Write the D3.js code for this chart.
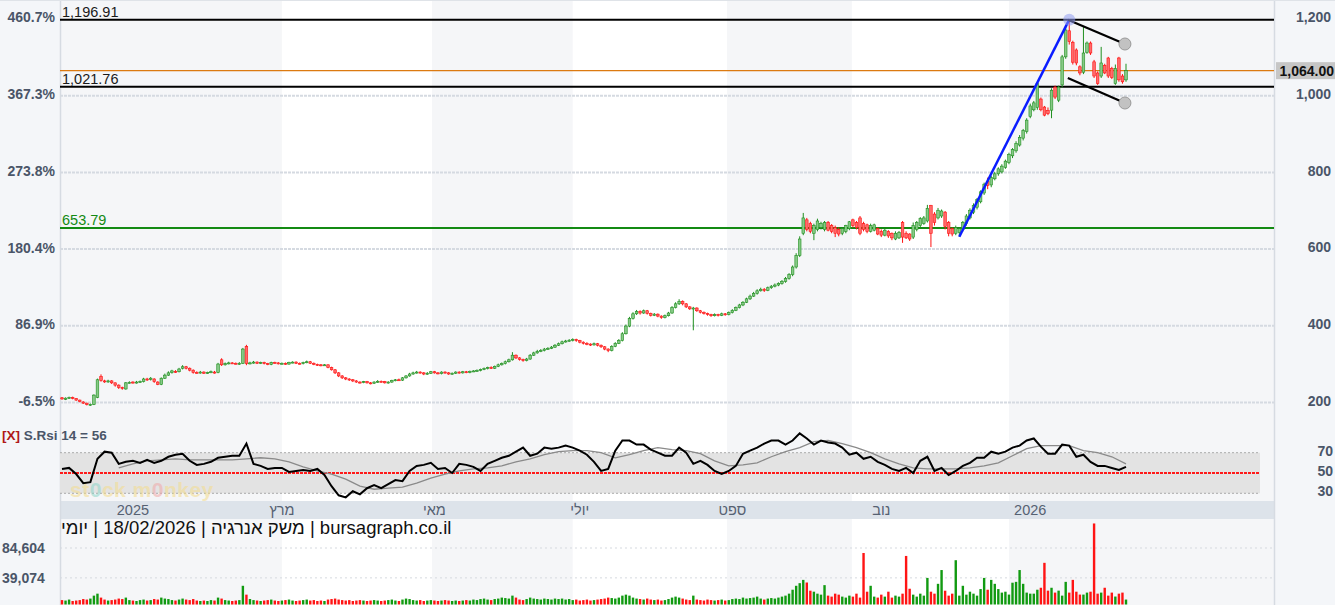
<!DOCTYPE html>
<html><head><meta charset="utf-8">
<script src="https://cdn.jsdelivr.net/npm/d3@7"></script>
<style>body{margin:0;background:#fff;} svg{display:block;font-family:"Liberation Sans",Arial,sans-serif;}</style>
</head><body><svg id="c" width="1335" height="605"></svg>
<script>
// ---------- DATA ----------
const openP=[211,207,210,212,209,205,200,197,193,194,
212,266,255,253,255,250,244,238,234,250,
252,250,252,253,260,259,260,252,246,262,
270,277,280,279,288,292,288,283,277,276,
278,275,277,278,277,310,297,300,302,301,
300,301,345,301,302,304,301,303,300,298,
303,302,300,301,299,303,304,301,300,303,
305,301,298,297,296,297,290,284,276,268,
263,260,258,255,252,251,253,250,249,252,
254,253,250,252,256,258,257,263,268,273,
276,278,276,273,275,279,276,274,278,276,
273,275,278,276,279,277,280,281,282,285,
287,290,288,293,297,300,305,310,322,315,
311,308,312,322,328,332,334,338,340,343,
348,352,357,359,361,363,360,356,353,351,
349,352,348,344,338,334,345,353,360,378,
398,418,430,436,432,438,431,426,429,424,
420,425,432,446,456,462,456,448,443,445,
438,434,431,428,425,428,426,430,428,433,
439,446,453,460,469,476,483,490,494,491,
498,502,505,509,514,522,532,552,582,640,
675,665,640,650,655,650,668,660,655,650,
640,645,652,675,668,680,665,662,645,648,
652,645,635,645,640,625,628,668,640,638,
630,650,660,665,672,712,690,680,685,695,
668,652,640,642,650,665,680,695,708,722,
745,775,766,782,795,800,812,825,842,855,
870,888,905,945,962,968,990,969,960,961,
1021,987,1027,1100,1168,1138,1118,1074,1060,1112,
1136,1087,1058,1050,1078,1097,1070,1030,1097,1050,1040];
const highP=[213,212,214,214,210,206,202,198,196,220,
261,272,258,258,257,251,246,240,252,254,
254,255,256,263,263,265,262,254,264,274,
280,284,283,289,296,294,290,285,280,281,
280,279,282,281,302,314,303,305,304,303,
304,341,349,305,307,306,305,305,302,305,
305,304,303,303,305,306,306,303,305,308,
307,303,300,299,299,298,292,286,278,270,
265,262,260,257,254,255,255,252,254,257,
256,255,254,258,260,261,265,270,276,279,
281,280,278,278,281,281,278,280,280,278,
277,280,280,281,281,282,283,285,287,290,
292,293,295,300,303,308,313,330,324,317,
313,315,325,331,336,338,341,343,346,351,
355,360,362,364,366,365,362,358,356,353,
355,354,350,346,340,348,356,364,382,402,
422,434,440,439,441,440,433,432,431,426,
428,435,450,460,468,465,458,450,448,447,
440,436,433,430,431,430,433,432,436,442,
449,456,463,472,480,487,494,498,497,501,
505,509,512,518,526,536,556,588,632,693,
680,670,665,678,670,672,672,664,660,655,
655,662,672,678,672,685,670,665,665,665,
655,650,652,648,642,645,646,672,645,640,
668,672,682,685,714,714,695,706,702,698,
672,655,660,656,672,690,705,718,732,752,
772,785,790,800,812,820,832,850,862,880,
896,912,940,978,985,1034,994,972,968,1018,
1025,1025,1105,1178,1196.91,1142,1122,1078,1178,1140,
1140,1092,1062,1126,1082,1100,1074,1080,1100,1055,1082];
const lowP=[206,205,208,207,203,199,195,191,190,192,
210,253,250,250,247,240,234,232,232,248,
248,248,250,251,255,256,250,244,244,260,
268,274,276,277,285,285,280,274,274,274,
273,273,275,274,275,294,295,298,299,298,
297,299,296,298,300,299,299,298,296,296,
300,298,298,297,297,301,299,298,298,301,
299,296,294,293,294,288,282,273,265,260,
257,255,252,250,248,249,248,246,247,250,
251,248,248,250,254,255,255,261,266,271,
274,274,270,271,273,274,272,272,274,271,
271,273,274,274,275,275,278,279,280,283,
285,286,286,291,295,298,303,308,312,308,
305,306,310,320,326,330,332,336,338,341,
346,350,355,357,358,357,353,350,348,346,
347,345,341,335,330,332,343,351,358,376,
395,415,427,428,430,428,423,424,421,417,
418,423,430,444,453,452,445,440,387,435,
431,428,425,422,423,423,424,425,426,431,
437,444,450,458,466,474,480,488,487,489,
495,499,502,506,511,519,528,548,578,635,
645,640,622,645,650,645,645,640,630,632,
635,640,648,655,650,635,645,640,642,645,
635,630,632,628,622,622,625,615,625,620,
625,645,655,662,668,604,660,676,680,650,
632,632,635,631,645,660,676,690,702,718,
740,755,760,778,790,796,808,820,836,850,
866,882,900,940,958,962,958,945,948,940,
990,982,1020,1095,1132,1080,1078,1052,1055,1108,
1105,1045,1027,1045,1055,1045,1042,1027,1035,1030,1035];
const closeP=[208,210,212,209,205,201,197,193,194,218,
258,256,254,255,250,244,238,236,250,251,
250,252,253,260,258,262,253,246,262,270,
276,281,278,286,292,288,283,277,276,278,
275,277,279,276,299,297,300,302,301,300,
301,338,300,302,304,301,303,300,298,303,
302,300,301,299,303,304,301,300,303,305,
301,298,297,296,297,290,284,276,268,263,
260,258,255,252,251,253,250,249,252,254,
253,250,252,256,258,257,263,268,273,276,
278,276,273,275,279,276,274,278,276,273,
275,278,276,279,277,280,281,282,285,287,
290,288,293,297,300,305,310,322,315,311,
308,312,322,328,332,334,338,340,343,348,
352,357,359,361,363,360,356,353,351,349,
352,348,344,338,334,345,353,360,378,398,
418,430,436,432,438,431,426,429,424,420,
425,432,446,456,462,456,448,443,445,438,
434,431,428,425,428,426,430,428,433,439,
446,453,460,469,476,483,490,494,491,498,
502,505,509,514,522,532,552,582,625,680,
650,645,660,672,665,668,648,645,640,638,
652,660,670,660,655,640,650,645,660,662,
638,635,648,633,628,640,642,630,628,625,
660,668,678,680,705,640,668,700,698,658,
640,638,655,652,668,685,700,712,728,748,
768,765,785,795,808,815,828,845,858,874,
890,908,935,972,980,1030,962,948,952,1013,
995,1021,1100,1170,1140,1086,1084,1058,1110,1136,
1110,1050,1030,1084,1058,1050,1046,1070,1040,1035,1064];
const volume=[5200,4500,6000,3800,4500,5200,6800,6000,7500,12000,
15000,9000,6000,4500,5200,6000,7500,6800,9000,5200,
4500,3800,5200,6000,4500,5200,6800,6000,9000,7500,
6800,5200,4500,6000,7500,6000,5200,6800,4500,3800,
4500,3800,5200,4500,9000,7500,5200,4500,3800,4500,
5200,27000,13500,6800,5200,4500,3800,4500,5200,6000,
4500,3800,4500,5200,6000,4500,3800,4500,5200,6000,
4500,5200,3800,4500,3800,6000,6800,7500,6000,5200,
4500,5200,3800,4500,5200,4500,3800,4500,5200,4500,
3800,4500,5200,6000,4500,3800,6000,7500,6800,5200,
4500,5200,3800,4500,5200,4500,3800,4500,5200,4500,
3800,4500,3800,4500,5200,4500,6000,5200,6800,7500,
6000,5200,6800,7500,9000,8300,7500,12000,9000,6000,
5200,6800,9000,7500,6800,6000,7500,6800,6000,7500,
6800,7500,6000,6800,5200,6000,4500,5200,6000,4500,
5200,6000,6800,7500,9000,8300,7500,9000,12000,13500,
12000,9000,7500,6800,6000,7500,6000,5200,6000,4500,
5200,6800,9000,10500,9000,7500,6000,5200,12000,6000,
5200,4500,6000,5200,4500,5200,6000,4500,5200,6800,
7500,6800,9000,7500,8300,9000,10500,7500,6000,7500,
8300,7500,9000,10500,12000,15000,21000,27000,31000,36000,
32000,19500,18000,15000,13500,28000,12000,10500,15000,13500,
10500,9000,12000,10500,15000,9000,77000,18000,27000,10500,
9000,13500,10500,18000,9000,12000,10500,15000,72500,22500,
13500,10500,15000,12000,39000,18000,15000,30000,51000,19500,
12000,15000,66000,12000,27000,13500,18000,15000,12000,22000,
39000,21000,36000,30000,22000,16600,18000,13600,31700,33000,
51000,30000,16600,15000,15000,21000,24000,62000,19600,24000,
16600,19600,12000,33000,16600,36000,18000,13600,13600,16600,
18000,122000,15000,16600,24000,12000,16600,10600,15000,16600,6000];
// RSI(14) read every 2 sessions, and its grey average read every 4 sessions from session 16
const rsiVals=[54,55,49,40,41,64,71,70,59,61,62,60,63,60,62,66,68,69,62,58,
59,61,65,66,67,67,79,59,57,54,55,55,51,52,53,52,54,48,37,28,
26,32,29,35,38,35,39,43,42,52,57,58,60,54,55,50,59,58,56,52,
59,62,65,67,71,75,67,69,75,74,75,77,75,72,68,61,52,54,72,82,
82,78,78,73,70,67,67,75,70,59,62,58,52,49,52,57,69,72,75,79,
82,82,78,82,89,84,78,82,80,79,75,68,70,64,66,61,58,54,52,55,
50,62,66,52,55,48,52,57,60,65,65,71,69,71,75,77,82,84,76,69,
69,78,77,66,68,61,57,57,55,53,56];
const rsiMaVals=[55,59,62,63,64,63,63,63,63,64,65,64,61,56,52,49,44,37,34,35,
36,40,45,49,52,54,55,57,61,64,68,71,72,72,70,65,68,72,75,73,
72,69,62,57,58,60,66,71,75,81,82,79,75,70,64,59,55,54,54,54,
55,57,60,67,74,77,77,77,72,70,66,59];
const priceTicks=[200,400,600,800,1000,1200];
const pctLabels=["-6.5%","86.9%","180.4%","273.8%","367.3%","460.7%"];
const rsiTicks=[70,50,30];
const volTicks=[39074,84604];
const monthIdx=[20,62,105,146,189,231,273];
const monthLabels=["2025","מרץ","מאי","יולי","ספט","נוב","2026"];
const shadeIdx=[[-2,62],[104.3,144],[187.5,222.7],[267,345]];
const levels=[{v:1196.91,label:"1,196.91",c:"#000"},{v:1021.76,label:"1,021.76",c:"#000"},{v:653.79,label:"653.79",c:"#138a13"}];
const lastPrice=1064;
const trendBlue=[[253,631],[284,1196.91]];
const trendUpper=[[283.6,1196.91],[299.7,1133.5]];
const trendLower=[[283.6,1044.8],[299.7,979.7]];
const titleText="יומי\u200E | 18/02/2026 | משק אנרגיה\u200E | bursagraph.co.il";

// ---------- DRAW ----------
const N=closeP.length;
const svg=d3.select("#c");
const L=60,R=1274;
const x=d3.scaleLinear().domain([0,N-1]).range([62,1126]);
const y=d3.scaleLinear().domain([200,1200]).range([402,18.5]);
const ry=d3.scaleLinear().domain([30,70]).range([493.3,452.7]);
const vy=d3.scaleLinear().domain([0,84604]).range([603.5,548]);
const axisColor="#4a5568";

svg.append("rect").attr("width",1335).attr("height",605).attr("fill","#fff");
svg.append("rect").attr("x",0).attr("y",0).attr("width",L).attr("height",605).attr("fill","#f4f6f9");
svg.append("rect").attr("x",R).attr("y",0).attr("width",1335-R).attr("height",605).attr("fill","#f4f6f9");
svg.append("defs").append("clipPath").attr("id","plot").append("rect").attr("x",L).attr("y",0).attr("width",R-L).attr("height",605);
const bands=svg.append("g").attr("clip-path","url(#plot)");
bands.selectAll("rect").data(shadeIdx).join("rect")
  .attr("x",d=>x(d[0])).attr("width",d=>x(d[1])-x(d[0])).attr("y",0).attr("height",605).attr("fill","#f5f6f8");
// time axis strip
svg.append("rect").attr("x",L).attr("y",501).attr("width",R-L).attr("height",18).attr("fill","#dde3ea");
svg.append("line").attr("x1",L+0.5).attr("x2",L+0.5).attr("y1",0).attr("y2",605).attr("stroke","#d6dbe2").attr("stroke-width",1.5);
svg.append("line").attr("x1",R+0.5).attr("x2",R+0.5).attr("y1",0).attr("y2",605).attr("stroke","#d6dbe2").attr("stroke-width",1.5);
svg.append("line").attr("x1",0).attr("x2",1335).attr("y1",0.5).attr("y2",0.5).attr("stroke","#dfe3e8");

// main grid
svg.append("g").selectAll("line").data(priceTicks.filter(d=>d<1200)).join("line")
  .attr("x1",L).attr("x2",R).attr("y1",d=>y(d)+0.5).attr("y2",d=>y(d)+0.5)
  .attr("stroke","#d5dae1").attr("stroke-width",2).attr("stroke-dasharray","3,1");
// left percent labels
svg.append("g").selectAll("text").data(priceTicks).join("text")
  .attr("x",55).attr("y",d=>y(d)-1).attr("dy","0.35em").attr("text-anchor","end")
  .attr("font-size",14).attr("font-weight","bold").attr("fill",axisColor)
  .text((d,i)=>pctLabels[i]);
// right price axis
const ra=svg.append("g").attr("transform",`translate(${R},0)`)
  .call(d3.axisRight(y).tickValues(priceTicks).tickFormat(d3.format(",")).tickSize(0));
ra.select(".domain").remove();
ra.selectAll("text").attr("x",57).attr("dy","0.3em").attr("text-anchor","end")
  .attr("font-size",14).attr("font-weight","bold").attr("fill",axisColor).attr("font-family","Liberation Sans, Arial, sans-serif")
  .attr("transform","translate(0,-1)");

// level lines
const lv=svg.append("g");
lv.append("line").attr("x1",L).attr("x2",R).attr("y1",y(lastPrice)).attr("y2",y(lastPrice)).attr("stroke","#dc7a10").attr("stroke-width",1.2);
lv.selectAll("line.lvl").data(levels).join("line").attr("class","lvl")
  .attr("x1",L).attr("x2",R).attr("y1",d=>y(d.v)).attr("y2",d=>y(d.v)).attr("stroke",d=>d.c).attr("stroke-width",2);
lv.selectAll("text").data(levels).join("text")
  .attr("x",62).attr("y",d=>y(d.v)-2.5).attr("font-size",14.5).attr("fill",d=>d.c==="#000"?"#1a1a1a":d.c).text(d=>d.label);

// candles
const cg=svg.append("g").attr("clip-path","url(#plot)");
const idx=d3.range(N);
const up=i=>closeP[i]>=openP[i];
cg.selectAll("line").data(idx).join("line")
  .attr("x1",i=>x(i)).attr("x2",i=>x(i))
  .attr("y1",i=>y(Math.max(highP[i],openP[i],closeP[i]))).attr("y2",i=>y(Math.min(lowP[i],openP[i],closeP[i])))
  .attr("stroke",i=>up(i)?"#1f8f1f":"#ff1010").attr("stroke-width",1);
cg.selectAll("rect").data(idx).join("rect")
  .attr("x",i=>x(i)-1.3).attr("width",2.6)
  .attr("y",i=>y(Math.max(openP[i],closeP[i])))
  .attr("height",i=>Math.max(1,Math.abs(y(openP[i])-y(closeP[i]))))
  .attr("fill",i=>up(i)?"#86c986":"#ff6b6b").attr("stroke",i=>up(i)?"#1f8f1f":"#ff1010").attr("stroke-width",0.6);

// trend lines
const tl=svg.append("g");
const lineGen=d3.line().x(d=>x(d[0])).y(d=>y(d[1]));
tl.append("path").attr("d",lineGen(trendBlue)).attr("stroke","#0a1cff").attr("stroke-width",2.5).attr("fill","none");
tl.append("path").attr("d",lineGen(trendUpper)).attr("stroke","#000").attr("stroke-width",2.2).attr("fill","none");
tl.append("path").attr("d",lineGen(trendLower)).attr("stroke","#000").attr("stroke-width",2.2).attr("fill","none");
tl.append("circle").attr("cx",x(trendBlue[1][0])).attr("cy",y(trendBlue[1][1])).attr("r",6).attr("fill","#8f9cf0").attr("opacity",0.55);
[trendUpper[1],trendLower[1]].forEach(p=>{
  tl.append("circle").attr("cx",x(p[0])).attr("cy",y(p[1])).attr("r",6).attr("fill","#c2c2c2").attr("stroke","#9a9a9a").attr("stroke-width",1);
});

// last price box
svg.append("rect").attr("x",R+2).attr("y",y(lastPrice)-8.5).attr("width",61).attr("height",17).attr("fill","#c6c6c6");
svg.append("text").attr("x",1334).attr("y",y(lastPrice)).attr("dy","0.35em").attr("text-anchor","end")
  .attr("font-size",14).attr("font-weight","bold").attr("fill","#111").text(d3.format(",.2f")(lastPrice));

// ---------- RSI panel ----------
const rg=svg.append("g");
rg.append("rect").attr("x",L).attr("width",1260-L).attr("y",ry(70)).attr("height",ry(30)-ry(70)).attr("fill","#e3e3e3");
rg.selectAll("line.b").data([70,30]).join("line").attr("class","b")
  .attr("x1",L).attr("x2",1260).attr("y1",d=>ry(d)).attr("y2",d=>ry(d)).attr("stroke","#aaaaaa").attr("stroke-dasharray","2,2");
rg.append("line").attr("x1",L).attr("x2",1260).attr("y1",ry(50)).attr("y2",ry(50)).attr("stroke","#ff1a1a").attr("stroke-width",2).attr("stroke-dasharray","3,1");
// watermark
const wm=rg.append("text").attr("x",70).attr("y",497).attr("font-size",21).attr("font-weight","bold").attr("opacity",0.55).attr("letter-spacing",0.5);
[["st","#f4dc8c"],["0","#8fd6c8"],["ck m","#f4dc8c"],["0","#f0a8a8"],["nkey","#f4dc8c"]].forEach(t=>wm.append("tspan").attr("fill",t[1]).text(t[0]));
const rsiLine=d3.line().x((d,k)=>x(k*2)).y(d=>ry(d));
rg.append("path").attr("d",d3.line().x((d,k)=>x(16+k*4)).y(d=>ry(d))(rsiMaVals)).attr("fill","none").attr("stroke","#8a8a8a").attr("stroke-width",1.3);
rg.append("path").attr("d",rsiLine(rsiVals)).attr("fill","none").attr("stroke","#000").attr("stroke-width",2);
rg.selectAll("text.t").data(rsiTicks).join("text").attr("class","t")
  .attr("x",1333).attr("y",d=>ry(d)-2).attr("dy","0.35em").attr("text-anchor","end")
  .attr("font-size",14).attr("font-weight","bold").attr("fill",axisColor).text(d=>d);
const hdr=rg.append("text").attr("x",2).attr("y",440).attr("font-size",13.5).attr("font-weight","bold");
hdr.append("tspan").attr("fill","#b01818").text("[X]");
hdr.append("tspan").attr("fill",axisColor).text(" S.Rsi 14 = "+rsiVals[rsiVals.length-1]);

// time axis labels
svg.append("g").selectAll("text").data(monthIdx).join("text")
  .attr("x",i=>x(i)).attr("y",515).attr("text-anchor","middle").attr("font-size",14.5).attr("fill","#566172")
  .text((d,k)=>monthLabels[k]);

// title
svg.append("text").attr("x",61).attr("y",534).attr("font-size",18.5).attr("fill","#111").text(titleText);

// ---------- Volume ----------
const vg=svg.append("g");
vg.selectAll("line").data(volTicks).join("line")
  .attr("x1",L).attr("x2",R).attr("y1",d=>vy(d)).attr("y2",d=>vy(d)).attr("stroke","#d5d9df").attr("stroke-dasharray","2,3");
vg.selectAll("text").data(volTicks).join("text")
  .attr("x",2).attr("y",d=>vy(d)).attr("dy","0.35em").attr("font-size",14).attr("font-weight","bold").attr("fill",axisColor)
  .text(d=>d3.format(",")(d));
vg.selectAll("rect").data(idx).join("rect")
  .attr("x",i=>x(i)-1.2).attr("width",2.4)
  .attr("y",i=>vy(volume[i])).attr("height",i=>vy(0)-vy(volume[i])+1)
  .attr("fill",i=>up(i)?"#119a11":"#ff1414");
</script></body></html>
